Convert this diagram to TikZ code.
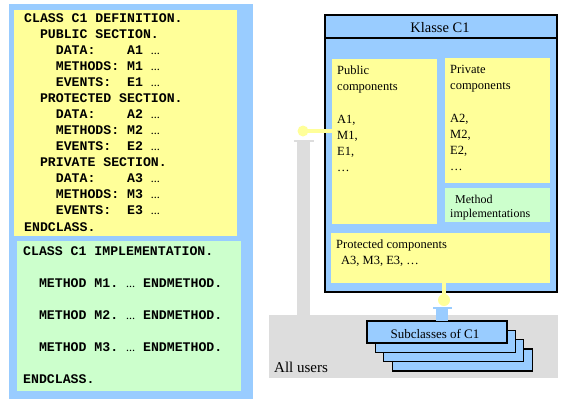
\documentclass[tikz,border=0pt]{standalone}
\usepackage{fontspec}
\setmainfont{Liberation Serif}
\setmonofont{Liberation Mono}
\definecolor{skyb}{HTML}{99CCFF}
\definecolor{lemon}{HTML}{FFFF99}
\definecolor{mint}{HTML}{CCFFCC}
\definecolor{ash}{HTML}{DDDDDD}
\usetikzlibrary{calc}
\newcommand{\dd}{{\rmfamily\fontsize{9}{9}\selectfont\dots}}
\tikzset{
	box/.style={anchor=north west, inner sep=0pt, outer sep=0pt},
	code/.style={anchor=base west, inner sep=0pt, font=\fontsize{13.2}{16}\ttfamily\bfseries},
	txt/.style={anchor=base west, inner sep=0pt, font=\fontsize{12.5}{16}\selectfont},
}

\begin{document}
\begin{tikzpicture}[x=1pt,y=-1pt]
	\useasboundingbox (0,0) rectangle (578,405);
	% source code side
	\node[box, fill=skyb, minimum width=244pt, minimum height=395pt] (src) at (9,4) {};
	\node[box, fill=lemon, minimum width=223pt, minimum height=226pt] (def) at (14,10) {};
	\node[box, fill=mint, minimum width=224pt, minimum height=150pt] (impl) at (17,241) {};
	\foreach \t [count=\i from 0] in {CLASS C1 DEFINITION., ~~PUBLIC SECTION.,
		~~~~DATA:~~~~A1 \dd, ~~~~METHODS:~M1 \dd, ~~~~EVENTS:~~E1 \dd,
		~~PROTECTED SECTION., ~~~~DATA:~~~~A2 \dd, ~~~~METHODS:~M2 \dd, ~~~~EVENTS:~~E2 \dd,
		~~PRIVATE SECTION., ~~~~DATA:~~~~A3 \dd, ~~~~METHODS:~M3 \dd, ~~~~EVENTS:~~E3 \dd,
		ENDCLASS.}
	\node[code] (d\i) at (24,22+16.08*\i) {\t};
	\foreach \t [count=\i from 0] in {CLASS C1 IMPLEMENTATION.,
		~~METHOD M1. \dd{} ENDMETHOD., ~~METHOD M2. \dd{} ENDMETHOD.,
		~~METHOD M3. \dd{} ENDMETHOD., ENDCLASS.}
	\node[code] (m\i) at (23,255+32.2*\i) {\t};
	% users
	\node[box, fill=ash, minimum width=289pt, minimum height=63pt] (users) at (269,315) {};
	\node[txt, font=\fontsize{15}{16}\selectfont] (ulab) at (274,372) {All users};
	\coordinate (pubsock) at (303.5,141);
	\draw[ash, line width=13pt] (pubsock) -- (pubsock |- users.north);
	\draw[ash, line width=1.5pt] ($(pubsock)+(-10,0)$) -- ($(pubsock)+(10,0)$);
	% class
	\node[box, draw, fill=skyb, line width=1.2pt, minimum width=232pt, minimum height=277pt] (cls) at (325,15) {};
	\draw[line width=1.2pt] (325,38) -- (557,38);
	\node[anchor=base, inner sep=0pt, font=\fontsize{14.5}{16}\selectfont] (ctitle) at (440,32) {Klasse C1};
	\node[box, fill=lemon, minimum width=105pt, minimum height=165pt] (pub) at (332,59) {};
	\node[box, fill=lemon, minimum width=105pt, minimum height=125pt] (priv) at (445,58) {};
	\node[box, fill=mint, minimum width=105pt, minimum height=34pt] (meth) at (445,188) {};
	\node[box, fill=lemon, minimum width=219pt, minimum height=50pt] (prot) at (331,233) {};
	\foreach \t/\y [count=\i] in {Public/74, components/90, {A1,}/123, {M1,}/139, {E1,}/155, \dots/171}
	\node[txt] (pl\i) at (337,\y) {\t};
	\foreach \t/\y [count=\i] in {Private/73, components/89, {A2,}/122, {M2,}/138, {E2,}/154, \dots/170}
	\node[txt] (vl\i) at (450,\y) {\t};
	\node[txt, font=\fontsize{12}{16}\selectfont] (ml1) at (455,203) {Method};
	\node[txt, font=\fontsize{12}{16}\selectfont] (ml2) at (450,217) {implementations};
	\node[txt] (tl1) at (336,248) {Protected components};
	\node[txt] (tl2) at (341,264) {A3, M3, E3, \dots};
	% lollipops
	\coordinate (pubdot) at (303,131);
	\draw[lemon, line width=4pt] (pubdot) -- (pubdot -| pub.west);
	\fill[lemon] (pubdot) circle (5.5pt);
	\coordinate (protdot) at (444,300);
	\draw[lemon, line width=4pt] (protdot) -- (protdot |- prot.south);
	\fill[lemon] (protdot) circle (6pt);
	% subclasses
	\foreach \i in {3,2,1,0}
	\node[box, draw, fill=skyb, line width=1.2pt, minimum width=140pt, minimum height=22pt] (sub\i) at (367+8.4*\i,321+9.3*\i) {};
	\node[anchor=base, inner sep=0pt, font=\fontsize{13}{16}\selectfont] (slab) at (435,338) {Subclasses of C1};
	\coordinate (subsock) at (442,308);
	\draw[skyb, line width=12pt] (subsock) -- (subsock |- sub0.north);
	\draw[skyb, line width=1.5pt] ($(subsock)+(-9,0)$) -- ($(subsock)+(10,0)$);
\end{tikzpicture}
\end{document}
